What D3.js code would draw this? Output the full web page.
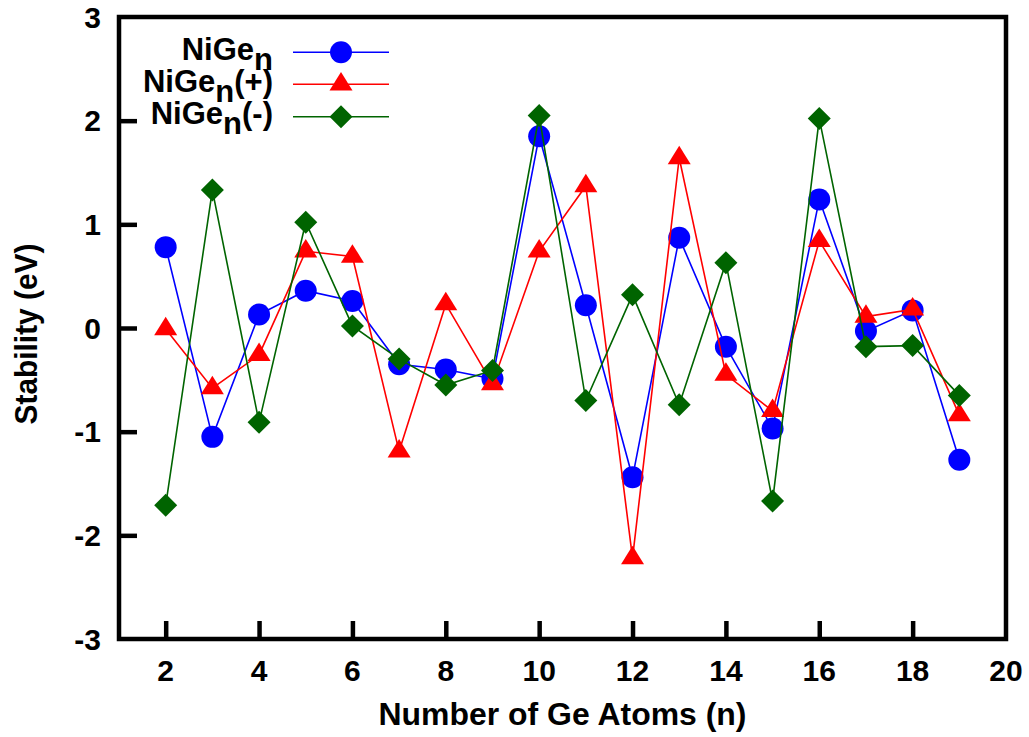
<!DOCTYPE html>
<html>
<head>
<meta charset="utf-8">
<script src="https://cdn.jsdelivr.net/npm/d3@7"></script>
<style>
  html, body { margin: 0; padding: 0; background: #fff; }
  svg text { font-family: "Liberation Sans", Arial, Helvetica, sans-serif; font-weight: bold; fill: #000; }
</style>
</head>
<body>
<svg id="chart" width="1029" height="737"></svg>
<script>
// Cluster size n (number of Ge atoms)
const atoms = [2, 3, 4, 5, 6, 7, 8, 9, 10, 11, 12, 13, 14, 15, 16, 17, 18, 19];

// Stability (eV) for the neutral, cationic and anionic clusters
const neutral = [0.78, -1.05, 0.13, 0.36, 0.26, -0.35, -0.40, -0.49, 1.85, 0.22, -1.44, 0.87, -0.18, -0.97, 1.24, -0.03, 0.17, -1.27];
const cation  = [-0.01, -0.58, -0.26, 0.74, 0.69, -1.19, 0.23, -0.54, 0.74, 1.37, -2.22, 1.64, -0.45, -0.80, 0.84, 0.11, 0.18, -0.84];
const anion   = [-1.71, 1.33, -0.91, 1.02, 0.02, -0.30, -0.55, -0.41, 2.05, -0.70, 0.32, -0.74, 0.63, -1.67, 2.02, -0.18, -0.17, -0.65];

// Axis ticks
const xTicks = [2, 4, 6, 8, 10, 12, 14, 16, 18, 20];
const yTicks = [-3, -2, -1, 0, 1, 2, 3];

const svg = d3.select("#chart");
const plotLeft = 119, plotRight = 1006, plotTop = 17, plotBottom = 639;

const x = d3.scaleLinear().domain([1, 20]).range([plotLeft, plotRight]);
const y = d3.scaleLinear().domain([-3, 3]).range([plotBottom, plotTop]);

const FONT = 30;

// Inward ticks on bottom and left
const xAxis = d3.axisBottom(x).tickValues(xTicks.filter(d => d < 20)).tickSize(-18).tickPadding(0).tickFormat(() => "");
const yAxis = d3.axisLeft(y).tickValues(yTicks.slice(1, -1)).tickSize(-18).tickPadding(0).tickFormat(() => "");

const gx = svg.append("g").attr("transform", `translate(0,${plotBottom})`).call(xAxis);
const gy = svg.append("g").attr("transform", `translate(${plotLeft},0)`).call(yAxis);
[gx, gy].forEach(g => {
  g.select(".domain").remove();
  g.selectAll(".tick line").attr("stroke", "#000").attr("stroke-width", 4.5);
});

// Tick labels
svg.append("g").selectAll("text").data(xTicks).join("text")
  .attr("x", d => x(d)).attr("y", plotBottom + 42)
  .attr("text-anchor", "middle").attr("font-size", FONT)
  .text(d => d);

svg.append("g").selectAll("text").data(yTicks).join("text")
  .attr("x", 101).attr("y", d => y(d) + 10.5)
  .attr("text-anchor", "end").attr("font-size", FONT)
  .text(d => d);

// Axis titles
svg.append("text")
  .attr("x", (plotLeft + plotRight) / 2).attr("y", 725)
  .attr("text-anchor", "middle").attr("font-size", 31)
  .attr("textLength", 368).attr("lengthAdjust", "spacingAndGlyphs")
  .text("Number of Ge Atoms (n)");

svg.append("text")
  .attr("transform", `translate(37,${(plotTop + plotBottom) / 2 + 6}) rotate(-90)`)
  .attr("text-anchor", "middle").attr("font-size", 31)
  .attr("textLength", 181).attr("lengthAdjust", "spacingAndGlyphs")
  .text("Stability (eV)");

// Marker shapes
const triH = 11.5, triV = 9.25;
const trianglePath = `M0,${-4 / 3 * triV}L${triH},${2 / 3 * triV}L${-triH},${2 / 3 * triV}Z`;
const dia = 11.5;
const diamondPath = `M0,${-dia}L${dia},0L0,${dia}L${-dia},0Z`;

const series = [
  { name: "NiGe", suffix: "", values: neutral, color: "#0000ff", shape: "circle" },
  { name: "NiGe", suffix: "(+)", values: cation, color: "#ff0000", shape: "triangle" },
  { name: "NiGe", suffix: "(-)", values: anion, color: "#006400", shape: "diamond" }
];

function drawMarker(g, shape, color) {
  if (shape === "circle") {
    g.append("circle").attr("r", 11).attr("fill", color);
  } else if (shape === "triangle") {
    g.append("path").attr("d", trianglePath).attr("fill", color);
  } else {
    g.append("path").attr("d", diamondPath).attr("fill", color);
  }
}

const line = d3.line().x(d => x(d[0])).y(d => y(d[1]));

series.forEach(s => {
  const pts = atoms.map((n, i) => [n, s.values[i]]);
  const g = svg.append("g");
  g.append("path").datum(pts).attr("d", line)
    .attr("fill", "none").attr("stroke", s.color).attr("stroke-width", 1.6);
  g.selectAll("g.pt").data(pts).join("g").attr("class", "pt")
    .attr("transform", d => `translate(${x(d[0])},${y(d[1])})`)
    .each(function () { drawMarker(d3.select(this), s.shape, s.color); });
});

// Legend
const legendRows = [52.3, 84.3, 116.7];
series.forEach((s, i) => {
  const ly = legendRows[i];
  const t = svg.append("text").attr("x", 273).attr("y", ly + 7.5)
    .attr("text-anchor", "end").attr("font-size", 31);
  t.append("tspan").text(s.name);
  t.append("tspan").attr("dy", 10).text("n");
  if (s.suffix) t.append("tspan").attr("dy", -10).text(s.suffix);
  svg.append("line").attr("x1", 293).attr("x2", 389).attr("y1", ly).attr("y2", ly)
    .attr("stroke", s.color).attr("stroke-width", 1.6);
  const m = svg.append("g").attr("transform", `translate(341,${ly})`);
  drawMarker(m, s.shape, s.color);
});

// Frame
svg.append("rect")
  .attr("x", plotLeft).attr("y", plotTop)
  .attr("width", plotRight - plotLeft).attr("height", plotBottom - plotTop)
  .attr("fill", "none").attr("stroke", "#000").attr("stroke-width", 4.5);
</script>
</body>
</html>
